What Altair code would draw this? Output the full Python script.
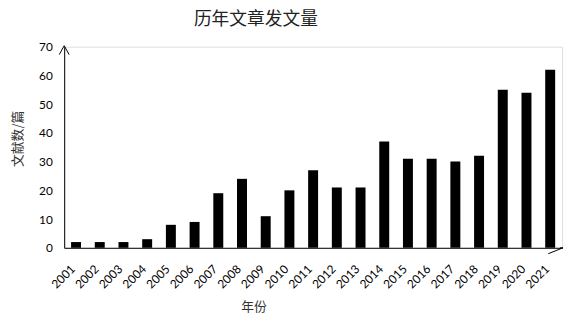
import altair as alt
import pandas as pd

years = [str(y) for y in range(2001, 2022)]
counts = [2, 2, 2, 3, 8, 9, 19, 24, 11, 20, 27, 21, 21, 37, 31, 31, 30, 32, 55, 54, 62]

df = pd.DataFrame({"年份": years, "文献数": counts})

W, H = 505, 204
LABEL_FONT = "Lato"
CJK = "Noto Sans CJK SC"

bars = alt.Chart(df).mark_bar(color="black").encode(
    x=alt.X(
        "年份:N",
        sort=years,
        scale=alt.Scale(paddingInner=0.58, paddingOuter=0.29),
        axis=alt.Axis(
            title="年份",
            titleFont=CJK,
            titleFontSize=13,
            titleFontWeight="normal",
            titleColor="#333",
            titleX=192,
            titleY=60,
            titleAlign="center",
            titleBaseline="middle",
            labelAngle=-45,
            labelAlign="right",
            labelBaseline="middle",
            labelFont=LABEL_FONT,
            labelFontSize=12,
            labelColor="black",
            labelPadding=19,
            labelOffset=-3,
            ticks=False,
            domainColor="black",
            domainWidth=1,
        ),
    ),
    y=alt.Y(
        "文献数:Q",
        scale=alt.Scale(domain=[0, 70], nice=False),
        axis=alt.Axis(
            title="文献数/篇",
            titleFont=CJK,
            titleFontSize=13,
            titleFontWeight="normal",
            titleColor="#333",
            titleX=-47,
            titleY=93,
            titleAngle=-90,
            titleAlign="center",
            titleBaseline="middle",
            values=[0, 10, 20, 30, 40, 50, 60, 70],
            labelFont=LABEL_FONT,
            labelFontSize=12,
            labelColor="black",
            labelPadding=12,
            ticks=False,
            grid=False,
            domainColor="black",
            domainWidth=1,
        ),
    ),
)

one = alt.Data(values=[{"k": 1}])
arrow_style = dict(color="black", strokeWidth=1)
y_arrow_l = alt.Chart(one).mark_rule(**arrow_style).encode(
    x=alt.value(0), y=alt.value(-1), x2=alt.value(-5), y2=alt.value(8))
y_arrow_r = alt.Chart(one).mark_rule(**arrow_style).encode(
    x=alt.value(0), y=alt.value(-1), x2=alt.value(5), y2=alt.value(8))
x_arrow_line = alt.Chart(one).mark_rule(**arrow_style).encode(
    x=alt.value(W - 2), y=alt.value(H), x2=alt.value(W + 1), y2=alt.value(H))
x_arrow_lo = alt.Chart(one).mark_rule(**arrow_style).encode(
    x=alt.value(W + 1), y=alt.value(H), x2=alt.value(W - 14), y2=alt.value(H + 6))

chart = alt.layer(bars, y_arrow_l, y_arrow_r, x_arrow_line, x_arrow_lo).properties(
    width=W,
    height=H,
    title=alt.TitleParams(
        "历年文章发文量",
        font=CJK,
        fontSize=18,
        fontWeight="normal",
        color="#222",
        anchor="middle",
        dx=-58,
        offset=12,
    ),
    padding={"left": 57, "top": 37, "right": 3, "bottom": 72},
    autosize=alt.AutoSizeParams(type="none"),
).configure_view(stroke=None).configure(background="white")

chart.save("out.html", embed_options={"renderer": "svg", "actions": False})
